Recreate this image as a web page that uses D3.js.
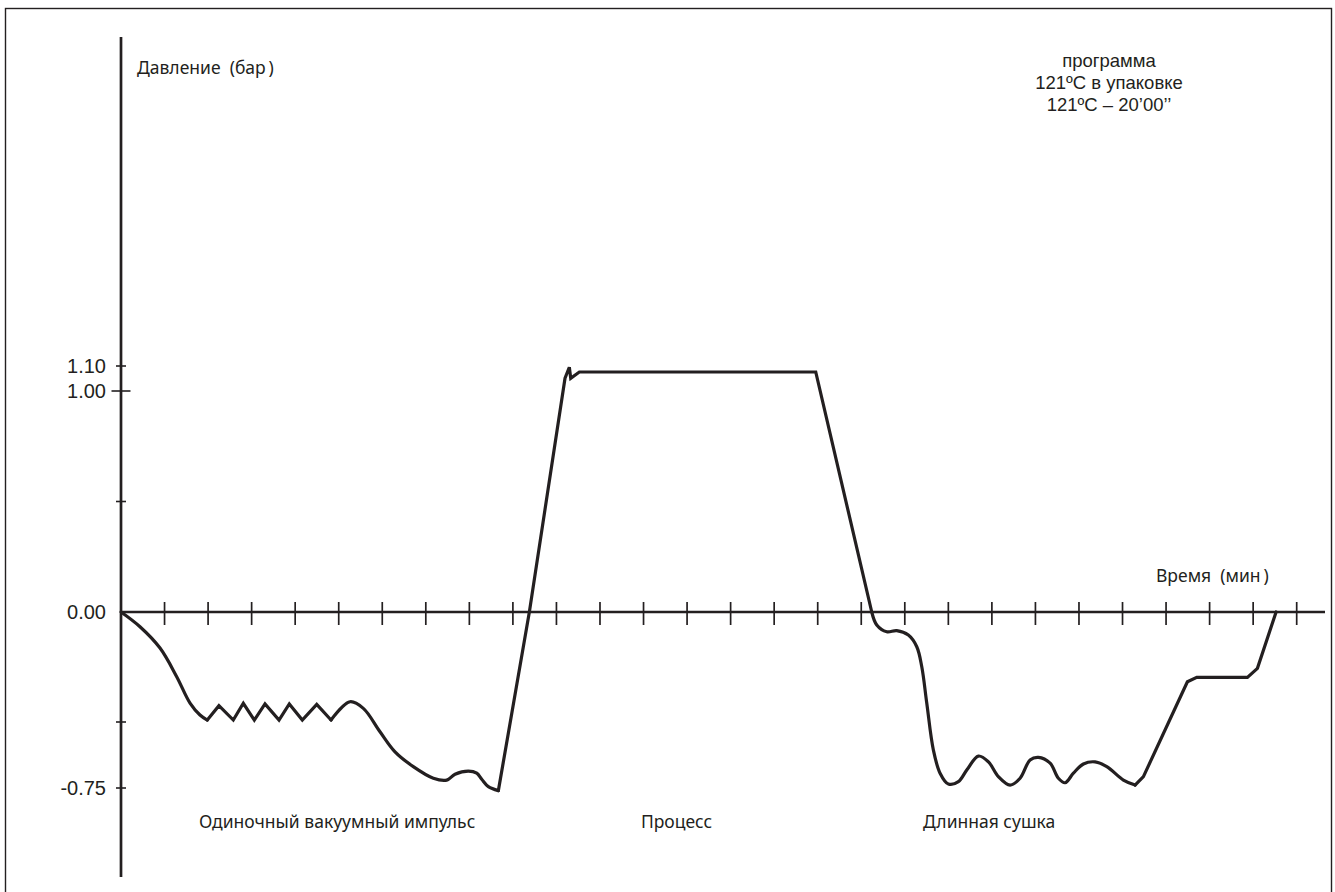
<!DOCTYPE html>
<html>
<head>
<meta charset="utf-8">
<script src="https://d3js.org/d3.v7.min.js"></script>
<style>
    html, body {
        margin: 0;
        padding: 0;
        background: #fff;
    }
    svg { display: block; }
    .lbl {
        font-family: "Noto Sans", sans-serif;
        font-size: 17.5px;
        fill: #231f20;
        white-space: pre;
    }
    .num {
        font-family: "Liberation Sans", Arial, sans-serif;
        fill: #231f20;
    }
</style>
</head>
<body>
<script>
    var width = 1335;
    var height = 892;
    var ink = "#231f20";

    // pressure curve (time in minutes, pressure in bar)
    var timeMin = [
        0, 0.436, 0.896, 1.279, 1.585, 1.814, 1.982,
        2.249, 2.579, 2.809, 3.062, 3.307, 3.629, 3.865, 4.164, 4.495, 4.823,
        5.259, 5.565, 5.948, 6.293, 6.713, 7.173, 7.480, 7.671, 7.977, 8.170, 8.284, 8.436, 8.666,
        9.378, 10.197, 10.296, 10.328, 10.526, 15.955, 17.241,
        17.356, 17.586, 17.815, 18.082, 18.275, 18.390, 18.505, 18.656, 18.810, 19.001,
        19.231, 19.423, 19.690, 19.920, 20.149, 20.418, 20.648, 20.877, 21.068, 21.337,
        21.527, 21.681, 21.872, 22.102, 22.370, 22.639, 23.020, 23.289, 23.480,
        24.490, 24.706, 25.868, 26.098, 26.527
    ];
    var pressureBar = [
        0, -0.067, -0.164, -0.294, -0.414, -0.468, -0.491,
        -0.426, -0.491, -0.415, -0.491, -0.418, -0.491, -0.418, -0.491, -0.420, -0.491,
        -0.408, -0.438, -0.537, -0.613, -0.669, -0.713, -0.720, -0.698, -0.686, -0.694, -0.717, -0.745, -0.760,
        0, 1.051, 1.095, 1.051, 1.076, 1.076, 0,
        -0.059, -0.090, -0.085, -0.105, -0.158, -0.249, -0.415, -0.606, -0.694, -0.735,
        -0.726, -0.682, -0.629, -0.651, -0.707, -0.739, -0.713, -0.644, -0.634, -0.656,
        -0.713, -0.730, -0.694, -0.659, -0.651, -0.669, -0.720, -0.739, -0.707,
        -0.317, -0.297, -0.297, -0.256, 0
    ];

    var yTickValues = [1.10, 1.00, 0.50, 0.00, -0.50, -0.75];
    var yTickLabels = ["1.10", "1.00", "", "0.00", "", "-0.75"];
    var xTickValues = d3.range(1, 28);

    var phaseLabels = ["Одиночный вакуумный импульс", "Процесс", "Длинная сушка"];
    var phaseStartMin = [1.79, 11.94, 18.42];
    var programLines = ["программа", "121ºC в упаковке", "121ºC – 20’00’’"];

    var svg = d3.select("body").append("svg")
        .attr("width", width)
        .attr("height", height);

    // frame round the picture
    svg.append("rect")
        .attr("x", 5.5).attr("y", 8.5)
        .attr("width", 1326).attr("height", 900)
        .attr("fill", "none")
        .attr("stroke", ink)
        .attr("stroke-width", 1.4);

    var x = d3.scaleLinear().domain([0, 27.65]).range([121, 1325]);
    // the scale of the original is not uniform, so it is piecewise
    var y = d3.scaleLinear()
        .domain([-0.75, -0.5, 0, 1, 1.1])
        .range([788, 722, 612, 391, 366]);

    // y axis
    svg.append("line")
        .attr("x1", x(0)).attr("x2", x(0))
        .attr("y1", 37).attr("y2", 877)
        .attr("stroke", ink).attr("stroke-width", 2.7);

    yTickValues.forEach(function (v, i) {
        if (v === 0) return;
        var half = (v === 1) ? 9.5 : 5;
        svg.append("line")
            .attr("x1", x(0) - half).attr("x2", x(0) + half)
            .attr("y1", y(v)).attr("y2", y(v))
            .attr("stroke", ink).attr("stroke-width", 1.6);
    });

    svg.selectAll("text.ytick")
        .data(yTickValues)
        .enter().append("text")
        .attr("class", "num ytick")
        .attr("x", 106)
        .attr("y", function (d) { return y(d) + 7; })
        .attr("text-anchor", "end")
        .style("font-size", "20px")
        .text(function (d, i) { return yTickLabels[i]; });

    // x axis
    svg.append("line")
        .attr("x1", x(0)).attr("x2", x.range()[1])
        .attr("y1", y(0)).attr("y2", y(0))
        .attr("stroke", ink).attr("stroke-width", 2.4);

    svg.selectAll("line.xtick")
        .data(xTickValues)
        .enter().append("line")
        .attr("class", "xtick")
        .attr("x1", function (d) { return x(d); })
        .attr("x2", function (d) { return x(d); })
        .attr("y1", y(0) - 10)
        .attr("y2", y(0) + 13)
        .attr("stroke", ink)
        .attr("stroke-width", 1.7);

    // axis titles
    svg.append("text").attr("class", "lbl")
        .attr("x", 137).attr("y", 74)
        .text("Давление  (бар\u2009)");

    svg.append("text").attr("class", "lbl")
        .attr("x", 1156).attr("y", 582)
        .text("Время  (мин\u2009)");

    // program block, top right
    svg.selectAll("text.prog")
        .data(programLines)
        .enter().append("text")
        .attr("class", "num prog")
        .attr("x", 1109)
        .attr("y", function (d, i) { return 67 + i * 22; })
        .attr("text-anchor", "middle")
        .style("font-size", "18.5px")
        .text(function (d) { return d; });

    // phase labels under the curve
    svg.selectAll("text.phase")
        .data(phaseLabels)
        .enter().append("text")
        .attr("class", "lbl phase")
        .attr("x", function (d, i) { return x(phaseStartMin[i]); })
        .attr("y", 828)
        .text(function (d) { return d; });

    // curve: smooth stretches and sharp stretches are drawn as separate pieces
    var pts = timeMin.map(function (t, i) { return [t, pressureBar[i]]; });
    var smooth = d3.curveCatmullRom.alpha(0.5);
    var pieces = [
        [0, 6, smooth],
        [6, 16, d3.curveLinear],
        [16, 29, smooth],
        [29, 36, d3.curveLinear],
        [36, 64, smooth],
        [64, 70, d3.curveLinear]
    ];

    pieces.forEach(function (p) {
        var line = d3.line()
            .x(function (d) { return x(d[0]); })
            .y(function (d) { return y(d[1]); })
            .curve(p[2]);
        svg.append("path")
            .datum(pts.slice(p[0], p[1] + 1))
            .attr("d", line)
            .attr("fill", "none")
            .attr("stroke", ink)
            .attr("stroke-width", 3.2)
            .attr("stroke-linejoin", "miter")
            .attr("stroke-linecap", "round");
    });
</script>
</body>
</html>
